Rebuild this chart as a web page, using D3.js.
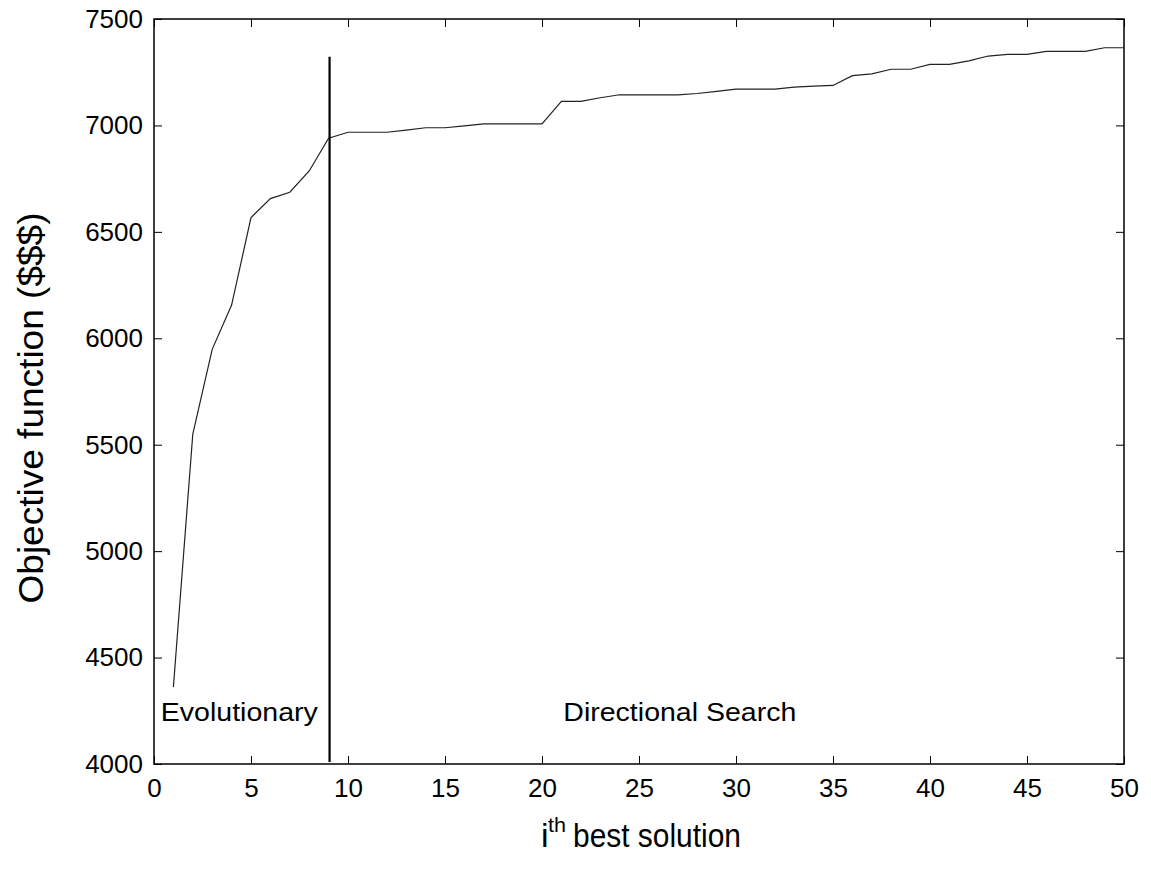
<!DOCTYPE html>
<html>
<head>
<meta charset="utf-8">
<script src="https://cdn.jsdelivr.net/npm/d3@7"></script>
<style>
  body { margin: 0; background: #fff; }
  text { font-family: Arial, "Liberation Sans", Helvetica, sans-serif; fill: #000; }
</style>
</head>
<body>
<svg id="chart" width="1151" height="877"></svg>
<script>
// i-th best solution and its objective value
const solutionIndex = d3.range(1, 51);
const objectiveValues = [
  4362, 5550, 5948, 6156, 6567, 6656, 6686, 6786, 6940, 6968,
  6968, 6968, 6978, 6989, 6989, 6998, 7007, 7007, 7007, 7007,
  7113, 7113, 7130, 7144, 7144, 7144, 7144, 7150, 7160, 7171,
  7171, 7171, 7180, 7185, 7188, 7234, 7242, 7264, 7264, 7287,
  7287, 7303, 7326, 7334, 7334, 7348, 7348, 7348, 7365, 7365
];
const xTicks = [0, 5, 10, 15, 20, 25, 30, 35, 40, 45, 50];
const yTicks = [4000, 4500, 5000, 5500, 6000, 6500, 7000, 7500];
const phaseSplit = 9.05;       // switch from evolutionary to directional search
const phaseSplitTop = 7323;
const phaseLabels = [
  { text: "Evolutionary", x: 0.35, len: 157 },
  { text: "Directional Search", x: 21.1, len: 233 }
];

const svg = d3.select("#chart");
const plot = { left: 154, right: 1124, top: 19, bottom: 764 };

const x = d3.scaleLinear().domain([0, 50]).range([plot.left, plot.right]);
const y = d3.scaleLinear().domain([4000, 7500]).range([plot.bottom, plot.top]);

const tickLen = 8;

// frame
svg.append("rect")
  .attr("x", plot.left).attr("y", plot.top)
  .attr("width", plot.right - plot.left).attr("height", plot.bottom - plot.top)
  .attr("fill", "none").attr("stroke", "#000").attr("stroke-width", 1.5);

// bottom axis, ticks pointing inward
const xAxis = svg.append("g")
  .attr("transform", `translate(0,${plot.bottom})`)
  .call(d3.axisBottom(x).tickValues(xTicks).tickSize(-tickLen).tickPadding(tickLen + 7).tickFormat(d3.format("d")));
xAxis.select(".domain").remove();
xAxis.selectAll("text").attr("font-size", 26);

const xTop = svg.append("g")
  .attr("transform", `translate(0,${plot.top})`)
  .call(d3.axisTop(x).tickValues(xTicks).tickSize(-tickLen).tickFormat(""));
xTop.select(".domain").remove();

const yAxis = svg.append("g")
  .attr("transform", `translate(${plot.left},0)`)
  .call(d3.axisLeft(y).tickValues(yTicks).tickSize(-tickLen).tickPadding(tickLen + 3).tickFormat(d3.format("d")));
yAxis.select(".domain").remove();
yAxis.selectAll("text").attr("font-size", 26);

const yRight = svg.append("g")
  .attr("transform", `translate(${plot.right},0)`)
  .call(d3.axisRight(y).tickValues(yTicks).tickSize(-tickLen).tickFormat(""));
yRight.select(".domain").remove();

svg.selectAll(".tick line").attr("stroke", "#000").attr("stroke-width", 1);

// objective curve
const line = d3.line()
  .x((d, i) => x(solutionIndex[i]))
  .y(d => y(d));

svg.append("path")
  .datum(objectiveValues)
  .attr("d", line)
  .attr("fill", "none")
  .attr("stroke", "#222")
  .attr("stroke-width", 1.2);

// phase divider
svg.append("line")
  .attr("x1", x(phaseSplit)).attr("x2", x(phaseSplit))
  .attr("y1", y(phaseSplitTop)).attr("y2", plot.bottom - 2)
  .attr("stroke", "#000").attr("stroke-width", 2.2);

svg.selectAll(".phase")
  .data(phaseLabels)
  .join("text")
  .attr("class", "phase")
  .attr("x", d => x(d.x))
  .attr("y", 721)
  .attr("font-size", 26)
  .attr("textLength", d => d.len)
  .attr("lengthAdjust", "spacingAndGlyphs")
  .text(d => d.text);

// axis titles
svg.append("text")
  .attr("transform", `translate(43,408) rotate(-90)`)
  .attr("text-anchor", "middle")
  .attr("font-size", 35)
  .attr("textLength", 391)
  .attr("lengthAdjust", "spacingAndGlyphs")
  .text("Objective function ($$$)");

const xt = svg.append("g");
xt.append("text").attr("x", 541).attr("y", 847).attr("font-size", 34).text("i");
xt.append("text").attr("x", 548).attr("y", 832).attr("font-size", 20)
  .attr("textLength", 18).attr("lengthAdjust", "spacingAndGlyphs").text("th");
xt.append("text").attr("x", 573).attr("y", 847).attr("font-size", 34)
  .attr("textLength", 168).attr("lengthAdjust", "spacingAndGlyphs").text("best solution");
</script>
</body>
</html>
